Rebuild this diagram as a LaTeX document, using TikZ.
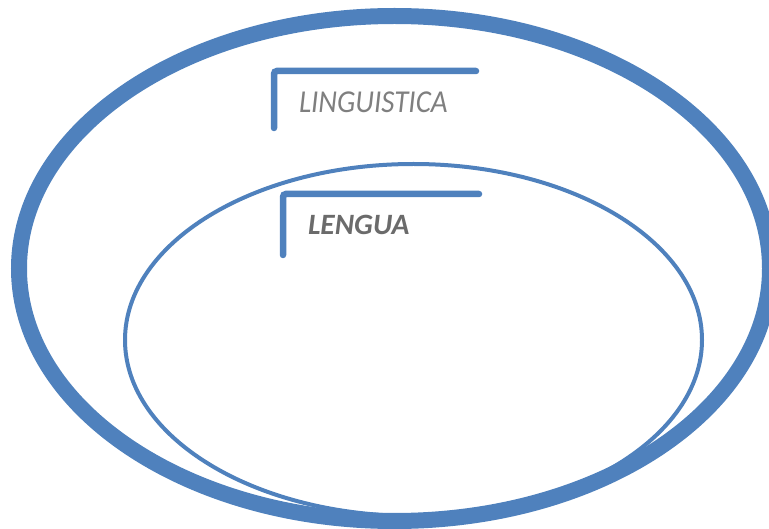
\documentclass[tikz,border=0pt]{standalone}
\usepackage{fontspec}
\setmainfont{Carlito}
\definecolor{ringblue}{HTML}{4F81BD}
\definecolor{labgray}{HTML}{7F7F7F}
\definecolor{labdark}{HTML}{6B6B6B}
\begin{document}
\begin{tikzpicture}[x=1pt,y=-1pt,
  ring/.style={draw=ringblue},
  bracketline/.style={draw=ringblue,line width=6.5pt,line cap=round,rounded corners=3pt},
  lab/.style={anchor=base west,inner sep=0pt,outer sep=0pt}]
\useasboundingbox (0,0) rectangle (769,529);
\draw[ring,line width=16pt] (394.5,268.5) ellipse [x radius=375.5, y radius=252.5];
\draw[ring,line width=4pt] (413.5,340) ellipse [x radius=288.5, y radius=176];
\draw[bracketline] (274,128) -- (274,71) -- (476,71);
\draw[bracketline] (283,255) -- (283,194) -- (479,194);
\node[lab,text=labgray,yscale=1.1] (ling) at (299,113) {\fontsize{29}{29}\selectfont\itshape LINGUISTICA};
\node[lab,text=labdark] (leng) at (308,235) {\fontsize{29.5}{29.5}\selectfont\bfseries\itshape LENGUA};
\end{tikzpicture}
\end{document}
